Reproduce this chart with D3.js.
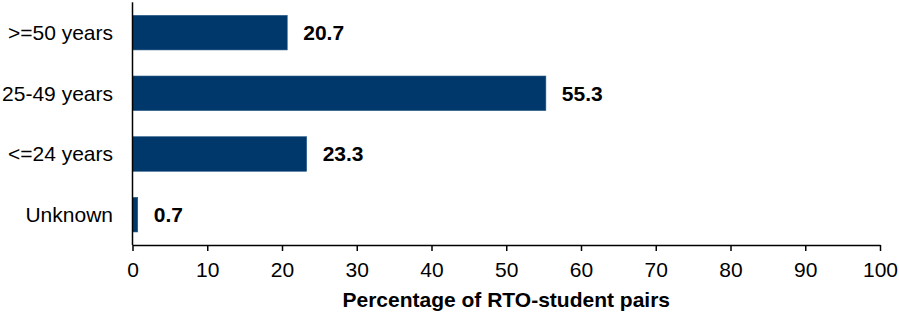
<!DOCTYPE html>
<html>
  <head>
    <style type="text/css">
      body { margin:0; background:#fff; }
      text { font-family:"Liberation Sans",Arial,Helvetica,sans-serif; fill:#000; }
    </style>
  </head>
  <body>
    <div id="canvas"></div>
    <script src="https://cdn.jsdelivr.net/npm/d3@7"></script>
    <script type="text/javascript">

    // data
    var categories = [">=50 years", "25-49 years", "<=24 years", "Unknown"];
    var values = [20.7, 55.3, 23.3, 0.7];
    var xTicks = [0, 10, 20, 30, 40, 50, 60, 70, 80, 90, 100];
    var xTitle = "Percentage of RTO-student pairs";

    var width = 899, height = 316;
    var margin = {top: 2.3, right: 19, bottom: 71, left: 132.5};

    var svg = d3.select('#canvas').append('svg')
                .attr('width', width)
                .attr('height', height);

    var x = d3.scaleLinear()
              .domain([0, 100])
              .range([margin.left, width - margin.right]);

    var y = d3.scaleBand()
              .domain(categories)
              .range([margin.top, height - margin.bottom])
              .paddingInner(0.43)
              .paddingOuter(0.215);

    var rows = categories.map(function (c, i) { return {cat: c, val: values[i]}; });

    // bars
    svg.selectAll('rect.bar')
       .data(rows)
     .enter().append('rect')
       .attr('class', 'bar')
       .attr('x', x(0))
       .attr('y', function (d) { return y(d.cat); })
       .attr('width', function (d) { return x(d.val) - x(0); })
       .attr('height', y.bandwidth())
       .attr('fill', '#00386b')
       .attr('stroke', '#2a5a88')
       .attr('stroke-width', 0.6);

    // value labels
    svg.selectAll('text.val')
       .data(rows)
     .enter().append('text')
       .attr('class', 'val')
       .attr('x', function (d) { return x(d.val) + 16; })
       .attr('y', function (d) { return y(d.cat) + y.bandwidth() / 2; })
       .attr('dy', '0.35em')
       .style('font-size', '21px')
       .style('font-weight', 'bold')
       .text(function (d) { return d.val.toFixed(1); });

    // category labels
    svg.selectAll('text.cat')
       .data(categories)
     .enter().append('text')
       .attr('class', 'cat')
       .attr('x', x(0) - 19.5)
       .attr('y', function (d) { return y(d) + y.bandwidth() / 2; })
       .attr('dy', '0.35em')
       .attr('text-anchor', 'end')
       .style('font-size', '21px')
       .text(function (d) { return d; });

    // y axis line
    svg.append('line')
       .attr('x1', x(0)).attr('x2', x(0))
       .attr('y1', margin.top).attr('y2', height - margin.bottom)
       .attr('stroke', '#000')
       .attr('stroke-width', 1.5);

    // x axis
    var xAxis = d3.axisBottom(x)
                  .tickValues(xTicks)
                  .tickSize(6)
                  .tickSizeOuter(0)
                  .tickPadding(11);

    var gx = svg.append('g')
       .attr('transform', 'translate(0,' + (height - margin.bottom) + ')')
       .call(xAxis);
    gx.attr('font-family', null).attr('font-size', null);
    gx.select('.domain').attr('stroke-width', 1.5);
    gx.selectAll('.tick line').attr('stroke-width', 1.5);
    gx.selectAll('.tick text')
      .style('font-size', '21px');

    // axis title
    svg.append('text')
       .attr('x', (x(0) + x(100)) / 2)
       .attr('y', 307)
       .attr('text-anchor', 'middle')
       .style('font-size', '21px')
       .style('font-weight', 'bold')
       .text(xTitle);
    </script>
  </body>
</html>
